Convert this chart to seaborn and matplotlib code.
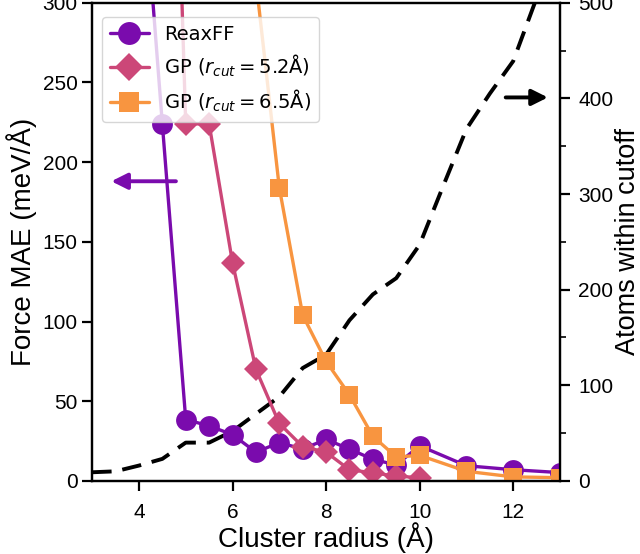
import numpy as np
import pandas as pd
import matplotlib
matplotlib.use('Agg')
import matplotlib.pyplot as plt
import seaborn as sns
from matplotlib.ticker import MultipleLocator

# data
reax_r = [4.0, 4.5, 5.0, 5.5, 6.0, 6.5, 7.0, 7.5, 8.0, 8.5, 9.0, 9.5, 10.0, 11.0, 12.0, 13.0]
reax_mae = [414, 224, 38.5, 34.5, 29, 18, 24, 20, 26, 20, 13.5, 10, 22, 9.5, 7, 5.2]

gp52_r = [4.5, 5.0, 5.5, 6.0, 6.5, 7.0, 7.5, 8.0, 8.5, 9.0, 9.5, 10.0]
gp52_mae = [700, 224, 224, 137, 70, 36, 21.5, 18, 7, 5, 3, 2]

gp65_r = [6.5, 7.0, 7.5, 8.0, 8.5, 9.0, 9.5, 10.0, 11.0, 12.0, 13.0]
gp65_mae = [314, 184, 104, 75, 54, 28, 15, 16, 6, 2.5, 2]

atoms_r = [3.0, 3.5, 4.0, 4.5, 5.0, 5.5, 6.0, 6.5, 7.0, 7.5, 8.0, 8.5, 9.0, 9.5,
           10.0, 10.5, 11.0, 11.5, 12.0, 12.5, 13.0]
atoms_n = [9, 10, 16, 23, 40, 40, 52, 70, 88, 118, 132, 168, 195, 212,
           247, 308, 368, 405, 439, 505, 570]

labels = ['ReaxFF', r'GP ($r_{cut} = 5.2$Å)', r'GP ($r_{cut} = 6.5$Å)']
colors = ['#7a0bad', '#cc4778', '#f89540']

sns.set_style('ticks')
plt.rcParams['font.family'] = ['Liberation Sans', 'DejaVu Sans']
plt.rcParams.update({'axes.linewidth': 1.6, 'axes.edgecolor': 'black',
                     'text.color': 'black', 'axes.labelcolor': 'black',
                     'xtick.color': 'black', 'ytick.color': 'black'})

fig, ax = plt.subplots(figsize=(6.4, 5.54), dpi=100)
fig.subplots_adjust(left=0.144, right=0.875, bottom=0.132, top=0.995)

series = [(reax_r, reax_mae, 'o', 15), (gp52_r, gp52_mae, 'D', 12.5), (gp65_r, gp65_mae, 's', 13)]
for (xs, ys, mk, ms), lab, col in zip(series, labels, colors):
    sns.lineplot(x=xs, y=ys, ax=ax, color=col, marker=mk, markersize=ms,
                 markeredgewidth=0, linewidth=2.4, label=lab, sort=False)

ax.set_xlim(3, 13)
ax.set_ylim(0, 300)
ax.set_xticks([4, 6, 8, 10, 12])
ax.set_yticks([0, 50, 100, 150, 200, 250, 300])
ax.set_xlabel('Cluster radius (Å)', fontsize=20, labelpad=0)
ax.set_ylabel('Force MAE (meV/Å)', fontsize=20, labelpad=4)
ax.tick_params(axis='both', direction='out', length=7, width=1.6, labelsize=15)
ax.tick_params(axis='x', pad=9)

ax2 = ax.twinx()
sns.lineplot(x=atoms_r, y=atoms_n, ax=ax2, color='black', linewidth=2.8,
             linestyle=(0, (5, 2.8)), sort=False)
ax2.set_ylim(0, 500)
ax2.set_yticks([0, 100, 200, 300, 400, 500])
ax2.yaxis.set_minor_locator(MultipleLocator(50))
ax2.set_ylabel('Atoms within cutoff', fontsize=19.5, labelpad=1)
ax2.tick_params(axis='y', which='major', direction='out', length=7, width=1.6,
                labelsize=15, pad=6)
ax2.tick_params(axis='y', which='minor', direction='out', length=4, width=1.2)
for sp in ax2.spines.values():
    sp.set_linewidth(1.6)

leg = ax.legend(loc='upper left', bbox_to_anchor=(0.0, 0.99),
                prop={'family': 'DejaVu Sans', 'size': 14}, handlelength=2.0,
                borderpad=0.4, labelspacing=0.45, markerscale=1.1)
ax.set_zorder(ax2.get_zorder() + 1)
ax.patch.set_visible(False)

# direction arrows
ax.annotate('', xy=(3.35, 188), xytext=(4.85, 188),
            arrowprops=dict(arrowstyle='-|>', color=colors[0], lw=2.8, mutation_scale=24))
ax2.annotate('', xy=(12.8, 401), xytext=(11.78, 401),
             arrowprops=dict(arrowstyle='-|>', color='black', lw=2.8, mutation_scale=24))

fig.savefig('out.png', dpi=100)
